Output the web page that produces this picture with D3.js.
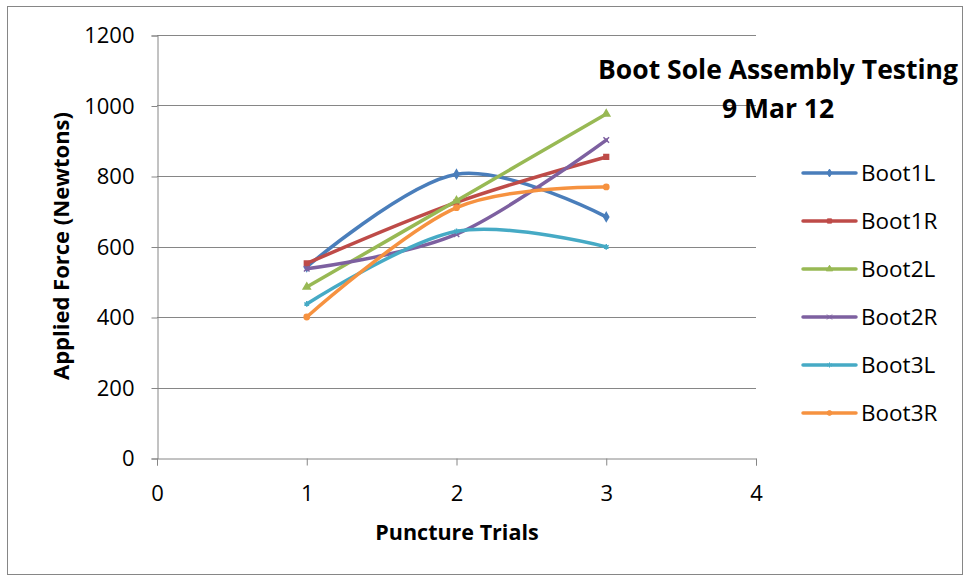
<!DOCTYPE html>
<html>
<head>
<meta charset="utf-8">
<script src="https://cdn.jsdelivr.net/npm/d3@7"></script>
<style>
  body { margin: 0; background: #fff; }
  text { font-family: "Open Sans", "Liberation Sans", sans-serif; }
</style>
</head>
<body>
<div id="chart"></div>
<script>
// data
const trials = [1, 2, 3];
const seriesNames = ["Boot1L", "Boot1R", "Boot2L", "Boot2R", "Boot3L", "Boot3R"];
const boot1L = [542, 805, 684];
const boot1R = [552, 725, 854];
const boot2L = [485, 730, 976];
const boot2R = [537, 635, 902];
const boot3L = [437, 643, 599];
const boot3R = [400, 710, 769];
const xTicks = [0, 1, 2, 3, 4];
const yTicks = [0, 200, 400, 600, 800, 1000, 1200];
const colors = ["#4A7EBB", "#BE4B48", "#98B954", "#7D60A0", "#46AAC5", "#F69240"];
const markers = ["diamond", "square", "triangle", "cross", "star", "circle"];

const allValues = [boot1L, boot1R, boot2L, boot2R, boot3L, boot3R];

const width = 967, height = 580;
const svg = d3.select('#chart').append('svg')
    .attr('width', width)
    .attr('height', height);

// outer frame
svg.append('rect')
    .attr('x', 7.5).attr('y', 6.5)
    .attr('width', 955).attr('height', 568)
    .attr('fill', 'none')
    .attr('stroke', '#868686')
    .attr('stroke-width', 1);

const x = d3.scaleLinear().domain([0, 4]).range([157, 756]);
const y = d3.scaleLinear().domain([0, 1200]).range([458, 35]);

// gridlines
svg.append('g')
    .selectAll('line')
    .data(yTicks.filter(d => d > 0))
    .enter()
    .append('line')
    .attr('x1', x(0)).attr('x2', x(4))
    .attr('y1', d => Math.round(y(d)) + 0.5)
    .attr('y2', d => Math.round(y(d)) + 0.5)
    .attr('stroke', '#868686')
    .attr('stroke-width', 1);

// axes
const yAxis = svg.append('g')
    .attr('transform', 'translate(' + (x(0) + 0.5) + ',0.5)')
    .call(d3.axisLeft(y).tickValues(yTicks).tickFormat(d3.format('d')).tickSize(6).tickPadding(17));
const xAxis = svg.append('g')
    .attr('transform', 'translate(0,' + (Math.round(y(0)) + 0.5) + ')')
    .call(d3.axisBottom(x).tickValues(xTicks).tickFormat(d3.format('d')).tickSize(7));

[xAxis, yAxis].forEach(ax => {
    ax.select('.domain').attr('stroke', '#868686');
    ax.selectAll('.tick line').attr('stroke', '#868686');
    ax.selectAll('.tick text')
        .attr('fill', '#000')
        .style('font-size', '22px')
        .style('font-family', '"Open Sans", sans-serif');
});
xAxis.selectAll('.tick text').attr('y', 42).attr('dy', null);

// lines
const line = d3.line()
    .x((d, i) => x(trials[i]))
    .y(d => y(d))
    .curve(d3.curveCardinal.tension(0));

const markerPath = (type, size) => {
    const symbols = {
        diamond: d3.symbolDiamond,
        square: d3.symbolSquare,
        triangle: d3.symbolTriangle,
        cross: d3.symbolTimes,
        star: d3.symbolAsterisk,
        circle: d3.symbolCircle
    };
    return d3.symbol().type(symbols[type]).size(size)();
};

allValues.forEach((vals, s) => {
    svg.append('path')
        .attr('d', line(vals))
        .attr('fill', 'none')
        .attr('stroke', colors[s])
        .attr('stroke-width', 3.5)
        .attr('stroke-linecap', 'round');
    svg.append('g')
        .selectAll('path')
        .data(vals)
        .enter()
        .append('path')
        .attr('transform', (d, i) => 'translate(' + x(trials[i]) + ',' + y(d) + ')')
        .attr('d', markerPath(markers[s], 22))
        .attr('fill', colors[s])
        .attr('stroke', colors[s])
        .attr('stroke-width', 1.5);
});

// legend
const legend = svg.append('g');
seriesNames.forEach((name, i) => {
    const ly = 173 + i * 48;
    legend.append('line')
        .attr('x1', 803).attr('x2', 856)
        .attr('y1', ly).attr('y2', ly)
        .attr('stroke', colors[i])
        .attr('stroke-width', 3.5)
        .attr('stroke-linecap', 'round');
    legend.append('path')
        .attr('transform', 'translate(829.5,' + ly + ')')
        .attr('d', markerPath(markers[i], 18))
        .attr('fill', colors[i])
        .attr('stroke', colors[i]);
    legend.append('text')
        .attr('x', 861).attr('y', ly)
        .attr('dy', '0.36em')
        .style('font-size', '22.5px')
        .text(name);
});

// title
const title = svg.append('text')
    .attr('x', 778)
    .attr('text-anchor', 'middle')
    .style('font-size', '26.5px')
    .style('font-weight', 'bold');
title.append('tspan').attr('x', 778).attr('y', 79).text('Boot Sole Assembly Testing');
title.append('tspan').attr('x', 778).attr('y', 118).text('9 Mar 12');

// axis titles
svg.append('text')
    .attr('x', 457).attr('y', 540)
    .attr('text-anchor', 'middle')
    .style('font-size', '21.5px')
    .style('font-weight', 'bold')
    .text('Puncture Trials');

svg.append('text')
    .attr('transform', 'translate(69,246) rotate(-90)')
    .attr('text-anchor', 'middle')
    .style('font-size', '22px')
    .style('font-weight', 'bold')
    .text('Applied Force (Newtons)');
</script>
</body>
</html>
